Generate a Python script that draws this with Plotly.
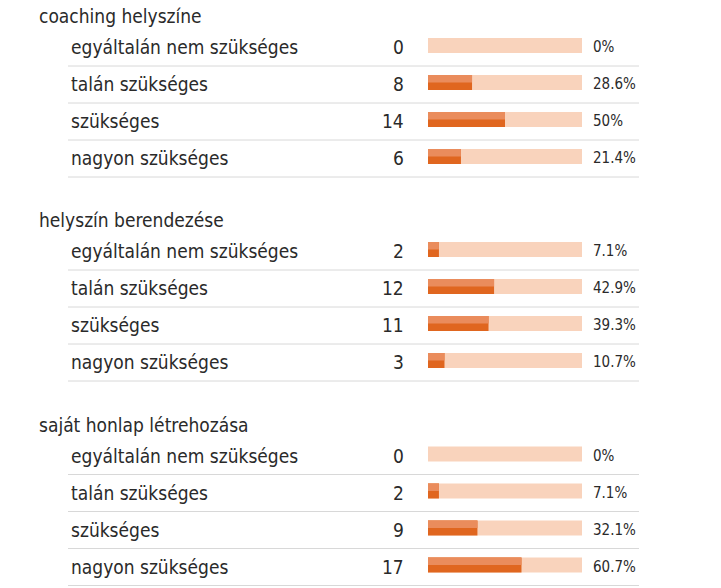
import plotly.graph_objects as go

W, H = 721, 588

sections = ["coaching helyszíne", "helyszín berendezése", "saját honlap létrehozása"]
answers = ["egyáltalán nem szükséges", "talán szükséges", "szükséges", "nagyon szükséges"]
counts_1 = [0, 8, 14, 6]
pct_1 = [0, 28.6, 50, 21.4]
counts_2 = [2, 12, 11, 3]
pct_2 = [7.1, 42.9, 39.3, 10.7]
counts_3 = [0, 2, 9, 17]
pct_3 = [0, 7.1, 32.1, 60.7]

all_counts = [counts_1, counts_2, counts_3]
all_pcts = [pct_1, pct_2, pct_3]

FONT = "DejaVu Sans Condensed"
TXT = "#2a2a2a"
TRACK = "#F9D3BC"
DARK = "#E0661F"
LIGHT = "#EA8C5C"

sec_top = [16, 220, 424.5]
row_gap = 37
first_off = 31
bar_h = 15
bar_shift = -1.5

fig = go.Figure()
ann = []
shapes = []
ys, xs_val = [], []
for s, title in enumerate(sections):
    ty = sec_top[s]
    ann.append(dict(x=37, y=ty, xref="x", yref="y", text=title, showarrow=False,
                    xanchor="left", yanchor="middle",
                    font=dict(family=FONT, size=19, color=TXT)))
    for i, a in enumerate(answers):
        ry = ty + first_off + i * row_gap
        ys.append(ry + bar_shift)
        xs_val.append(all_pcts[s][i])
        ann.append(dict(x=69, y=ry, xref="x", yref="y", text=a, showarrow=False,
                        xanchor="left", yanchor="middle",
                        font=dict(family=FONT, size=19, color=TXT)))
        ann.append(dict(x=406, y=ry, xref="x", yref="y", text=str(all_counts[s][i]),
                        showarrow=False, xanchor="right", yanchor="middle",
                        font=dict(family=FONT, size=19, color=TXT)))
        ann.append(dict(x=591, y=ry, xref="x", yref="y", text=f"{all_pcts[s][i]:g}%",
                        showarrow=False, xanchor="left", yanchor="middle",
                        font=dict(family=FONT, size=15, color=TXT)))
        sy = ry + 19
        shapes.append(dict(type="line", xref="x", yref="y", x0=68, x1=639, y0=sy, y1=sy,
                           line=dict(color="#d8d8d8", width=1)))

fig.add_trace(go.Bar(y=ys, x=[100] * len(ys), orientation="h", width=bar_h,
                     marker=dict(color=TRACK, line=dict(width=0)), xaxis="x2", yaxis="y",
                     hoverinfo="skip", showlegend=False))
fig.add_trace(go.Bar(y=ys, x=xs_val, orientation="h", width=bar_h,
                     marker=dict(color=DARK, line=dict(width=0)), xaxis="x2", yaxis="y",
                     showlegend=False))
fig.add_trace(go.Bar(y=[v - bar_h / 4 for v in ys], x=xs_val, orientation="h", width=bar_h / 2,
                     marker=dict(color=LIGHT, line=dict(width=0)), xaxis="x2", yaxis="y",
                     hoverinfo="skip", showlegend=False))
# invisible trace to anchor the full-width text axis
fig.add_trace(go.Scatter(x=[0, W], y=[0, H], mode="markers", marker=dict(opacity=0),
                         xaxis="x", yaxis="y", hoverinfo="skip", showlegend=False))

fig.update_layout(
    width=W, height=H, margin=dict(l=0, r=0, t=0, b=0),
    paper_bgcolor="white", plot_bgcolor="rgba(0,0,0,0)",
    barmode="overlay",
    xaxis=dict(range=[0, W], domain=[0, 1], visible=False, fixedrange=True),
    xaxis2=dict(range=[0, 100], domain=[428 / W, 582 / W], visible=False,
                anchor="y", fixedrange=True),
    yaxis=dict(range=[H, 0], domain=[0, 1], visible=False, fixedrange=True),
    annotations=ann, shapes=shapes,
)
fig.write_html("out.html", config={"displayModeBar": False},
               post_script="document.body.style.margin='0';document.body.style.overflow='hidden';")
